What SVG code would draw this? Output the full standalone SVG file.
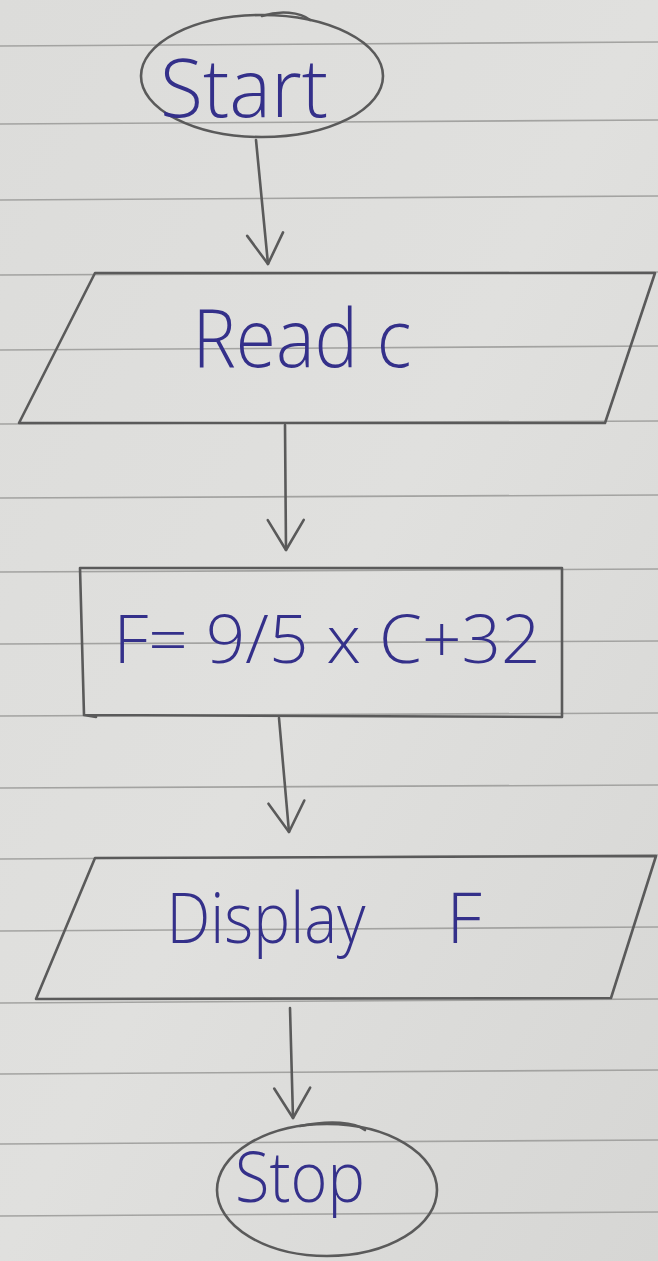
<svg xmlns="http://www.w3.org/2000/svg" width="658" height="1261" viewBox="0 0 658 1261">
<style>
.rule{stroke:#a3a3a1;stroke-width:1.6;fill:none}
.pencil{stroke:#5a5a5a;stroke-width:2.6;fill:none;stroke-linecap:round;stroke-linejoin:round}
.ink{fill:#34308a;font-family:"Open Sans","Liberation Sans",sans-serif;font-weight:300;text-anchor:middle}
</style>
<defs>
<linearGradient id="paper" x1="0" y1="0" x2="1" y2="1">
<stop offset="0" stop-color="#dcdcda"/>
<stop offset="0.5" stop-color="#e0e0de"/>
<stop offset="1" stop-color="#d6d6d4"/>
</linearGradient>
<marker id="v" markerUnits="userSpaceOnUse" markerWidth="60" markerHeight="60" refX="0" refY="0" viewBox="-40 -30 50 60" orient="auto">
<path d="M-30,-18 L0,0 L-30,18" fill="none" stroke="#5a5a5a" stroke-width="2.6" stroke-linecap="round" stroke-linejoin="round"/>
</marker>
</defs>
<rect width="658" height="1261" fill="url(#paper)"/>
<g id="ruled-lines">
<path class="rule" d="M0,46 L658,42"/>
<path class="rule" d="M0,124 L658,120"/>
<path class="rule" d="M0,200 L658,196"/>
<path class="rule" d="M0,275 L658,272"/>
<path class="rule" d="M0,350 L658,346"/>
<path class="rule" d="M0,424 L658,421"/>
<path class="rule" d="M0,498 L658,495"/>
<path class="rule" d="M0,572 L658,569"/>
<path class="rule" d="M0,644 L658,641"/>
<path class="rule" d="M0,716 L658,713"/>
<path class="rule" d="M0,788 L658,785"/>
<path class="rule" d="M0,859 L658,855"/>
<path class="rule" d="M0,931 L658,927"/>
<path class="rule" d="M0,1003 L658,999"/>
<path class="rule" d="M0,1074 L658,1070"/>
<path class="rule" d="M0,1144 L658,1140"/>
<path class="rule" d="M0,1216 L658,1212"/>
</g>
<g id="connectors">
<path class="pencil" d="M256,140 L268,264" marker-end="url(#v)"/>
<path class="pencil" d="M285,425 L286,550" marker-end="url(#v)"/>
<path class="pencil" d="M279,718 L289,832" marker-end="url(#v)"/>
<path class="pencil" d="M290,1008 L293,1118" marker-end="url(#v)"/>
</g>
<g id="start">
<ellipse class="pencil" cx="262" cy="76" rx="121" ry="61"/>
<path class="pencil" d="M262,16 C280,10 300,12 310,20"/>
<text class="ink" x="244" y="117" font-size="82" textLength="168" lengthAdjust="spacingAndGlyphs">Start</text>
</g>
<g id="read-c">
<path class="pencil" d="M95,273 L655,273 L605,423 L19,423 Z"/>
<text class="ink" x="302" y="367" font-size="82" textLength="219" lengthAdjust="spacingAndGlyphs">Read c</text>
</g>
<g id="compute-f">
<path class="pencil" d="M80,568 L562,568 L562,717 L84,715 L80,568 M84,715 L96,717"/>
<text class="ink" x="327" y="663" font-size="66" textLength="427" lengthAdjust="spacingAndGlyphs">F= 9/5 x C+32</text>
</g>
<g id="display-f">
<path class="pencil" d="M95,858 L656,856 L611,998 L36,999 Z"/>
<text class="ink" font-size="70" y="943"><tspan x="266" textLength="199" lengthAdjust="spacingAndGlyphs">Display</tspan><tspan x="464">F</tspan></text>
</g>
<g id="stop">
<ellipse class="pencil" cx="327" cy="1190" rx="110" ry="66"/>
<path class="pencil" d="M300,1126 C330,1120 355,1122 365,1130"/>
<text class="ink" x="300" y="1202" font-size="70" textLength="130" lengthAdjust="spacingAndGlyphs">Stop</text>
</g>
</svg>
